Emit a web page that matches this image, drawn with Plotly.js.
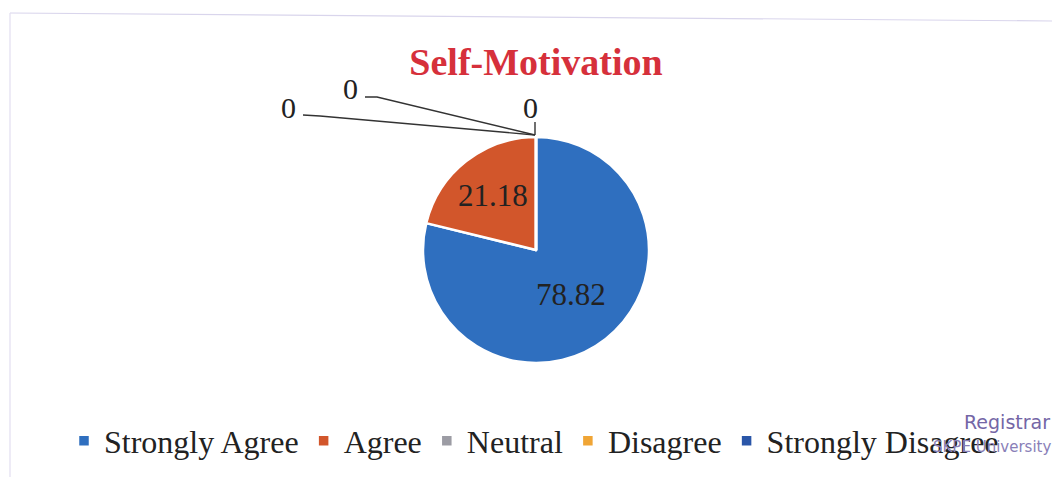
<!DOCTYPE html>
<html>
<head>
<meta charset="utf-8">
<script src="https://cdn.plot.ly/plotly-3.0.1.min.js"></script>
<style>
  html, body { margin: 0; padding: 0; background: #ffffff; }
  #chart { width: 1052px; height: 477px; }
</style>
</head>
<body>
<div id="chart"></div>
<script>
// Data
const categories = ["Strongly Agree", "Agree", "Neutral", "Disagree", "Strongly Disagree"];
const values = [78.82, 21.18, 0, 0, 0];
const colors = ["#2f6fbf", "#d2562b", "#9c9ca4", "#f0a535", "#2a56a8"];
const chartTitle = "Self-Motivation";
const zeroLabels = [values[2], values[3], values[4]];

const serif = "Liberation Serif, Times New Roman, serif";

const trace = {
  type: "pie",
  labels: categories,
  values: values,
  sort: false,
  direction: "clockwise",
  rotation: 0,
  marker: { colors: colors, line: { color: "#ffffff", width: 2.5 } },
  textinfo: "value",
  texttemplate: "%{value:.2f}",
  textposition: "inside",
  insidetextorientation: "horizontal",
  textfont: { family: serif, size: 31, color: "#222222" },
  domain: { x: [423 / 1052, 649 / 1052], y: [(477 - 363) / 477, (477 - 137) / 477] },
  hoverinfo: "label+value"
};

const W = 1052, H = 477;
const px = (x) => x / W;
const py = (y) => 1 - y / H;

const lineStyle = { color: "#333333", width: 1.4 };
const shapes = [
  // leader lines for the zero slices
  { type: "path", xref: "paper", yref: "paper", line: lineStyle,
    path: `M ${px(303)} ${py(115)} L ${px(320)} ${py(116)} L ${px(535)} ${py(135)}` },
  { type: "path", xref: "paper", yref: "paper", line: lineStyle,
    path: `M ${px(365)} ${py(97)} L ${px(377)} ${py(97)} L ${px(535)} ${py(135)}` },
  { type: "path", xref: "paper", yref: "paper", line: lineStyle,
    path: `M ${px(535)} ${py(122)} L ${px(535)} ${py(135)}` },
  // faint scanned chart border
  { type: "line", xref: "paper", yref: "paper", x0: px(10), x1: 1, y0: py(13), y1: py(21),
    line: { color: "#d9d5ec", width: 1.2 } },
  { type: "line", xref: "paper", yref: "paper", x0: px(10), x1: px(10), y0: py(13), y1: 0,
    line: { color: "#e2def0", width: 1.2 } }
];

const zeroFont = { family: serif, size: 30, color: "#222" };
const annotations = [
  { text: String(zeroLabels[0]), x: px(288), y: py(107), xref: "paper", yref: "paper",
    xanchor: "center", yanchor: "middle", showarrow: false, font: zeroFont },
  { text: String(zeroLabels[1]), x: px(350), y: py(88), xref: "paper", yref: "paper",
    xanchor: "center", yanchor: "middle", showarrow: false, font: zeroFont },
  { text: String(zeroLabels[2]), x: px(530), y: py(108), xref: "paper", yref: "paper",
    xanchor: "center", yanchor: "middle", showarrow: false, font: zeroFont },
  // stamp text
  { text: "Registrar", x: px(962), y: py(422), xref: "paper", yref: "paper",
    xanchor: "left", yanchor: "middle",
    showarrow: false, font: { family: "DejaVu Sans, sans-serif", size: 19, color: "#7466a6" } },
  { text: "SKPE University", x: px(931), y: py(447), xref: "paper", yref: "paper",
    xanchor: "left", yanchor: "middle",
    showarrow: false, font: { family: "DejaVu Sans, sans-serif", size: 15, color: "#8a7fb8" } }
];

const layout = {
  width: W, height: H,
  margin: { l: 0, r: 0, t: 0, b: 0 },
  paper_bgcolor: "#ffffff",
  title: {
    text: "<b>" + chartTitle + "</b>",
    x: px(536), xanchor: "center", xref: "paper",
    y: py(62), yanchor: "middle", yref: "paper",
    font: { family: serif, size: 38, color: "#d6303b" }
  },
  showlegend: true,
  legend: {
    orientation: "h",
    x: px(64), xanchor: "left",
    y: py(441), yanchor: "middle",
    font: { family: serif, size: 32, color: "#222222" },
    itemwidth: 30,
    bgcolor: "rgba(0,0,0,0)"
  },
  shapes: shapes,
  annotations: annotations
};

Plotly.newPlot("chart", [trace], layout, { displayModeBar: false, staticPlot: true });
</script>
</body>
</html>
